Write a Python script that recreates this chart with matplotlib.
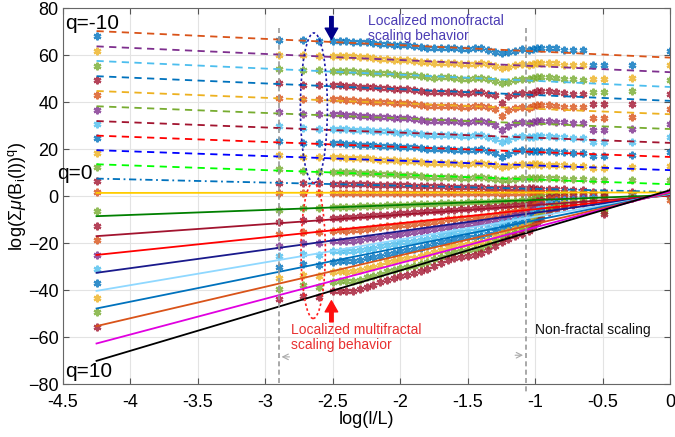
import matplotlib.pyplot as plt
from matplotlib.patches import Ellipse

plt.rcParams['font.family'] = ['Liberation Sans', 'DejaVu Sans']
plt.rcParams['mathtext.fontset'] = 'custom'
plt.rcParams['mathtext.rm'] = 'Liberation Sans'
plt.rcParams['mathtext.it'] = 'Liberation Sans:italic'

# sample positions log(l/L)
x_pos = [-4.25, -2.90, -2.72, -2.60, -2.50,
         -2.45, -2.40, -2.35, -2.30, -2.25, -2.20, -2.15, -2.10, -2.05, -2.00,
         -1.95, -1.90, -1.85, -1.80, -1.75, -1.70, -1.65, -1.60, -1.55, -1.50,
         -1.45, -1.40, -1.35, -1.30, -1.25, -1.20, -1.15, -1.10,
         -1.05, -1.02, -0.99, -0.96, -0.90, -0.85, -0.79, -0.72, -0.65,
         -0.57, -0.49, -0.28, 0.00]

# measured log(sum mu^q) for q = -10 ... 10
pts_qm10 = [68.1, 66.7, 66.4, 66.2, 66.1,
            66.1, 65.9, 65.8, 65.5, 65.5, 65.1, 64.9, 64.9, 64.5, 64.3,
            64.4, 64.0, 63.6, 63.3, 63.0, 63.1, 63.2, 62.9, 62.6, 62.7,
            62.9, 62.9, 62.4, 61.6, 60.8, 61.3, 62.0, 62.5,
            62.2, 62.7, 63.1, 63.2, 63.2, 62.9, 62.3, 62.2, 62.1,
            55.7, 55.7, 55.9, 61.8]
pts_qm9 = [61.8, 60.3, 60.0, 59.8, 59.8,
           59.7, 59.5, 59.5, 59.1, 59.1, 58.8, 58.6, 58.5, 58.2, 58.0,
           58.0, 57.7, 57.3, 57.0, 56.7, 56.8, 56.9, 56.6, 56.3, 56.4,
           56.5, 56.6, 56.1, 55.4, 54.5, 55.0, 55.8, 56.2,
           55.9, 56.4, 56.9, 56.9, 56.9, 56.6, 56.0, 56.0, 55.9,
           50.1, 50.1, 50.3, 55.7]
pts_qm8 = [55.6, 54.3, 53.8, 53.6, 53.5,
           53.5, 53.3, 53.2, 52.9, 52.9, 52.6, 52.3, 52.3, 52.0, 51.7,
           51.8, 51.5, 51.0, 50.7, 50.5, 50.6, 50.6, 50.4, 50.1, 50.1,
           50.3, 50.4, 49.8, 49.1, 48.3, 48.8, 49.5, 50.0,
           49.7, 50.2, 50.6, 50.6, 50.7, 50.3, 49.8, 49.7, 49.6,
           44.4, 44.4, 44.6, 49.6]
pts_qm7 = [49.4, 48.4, 47.5, 47.3, 47.3,
           47.3, 47.0, 47.0, 46.7, 46.7, 46.3, 46.1, 46.1, 45.8, 45.5,
           45.6, 45.3, 44.9, 44.5, 44.3, 44.4, 44.5, 44.3, 43.9, 44.0,
           44.2, 44.3, 43.7, 43.0, 39.7, 42.7, 43.4, 43.9,
           43.6, 44.1, 44.6, 44.6, 44.6, 44.3, 43.8, 43.7, 43.6,
           39.1, 39.1, 39.3, 43.4]
pts_qm6 = [43.1, 42.0, 41.4, 41.3, 41.2,
           41.2, 41.0, 41.0, 40.7, 40.6, 40.3, 40.1, 40.1, 39.8, 39.6,
           39.6, 39.3, 38.9, 38.6, 38.4, 38.5, 38.6, 38.3, 38.0, 38.1,
           38.3, 38.4, 37.9, 37.1, 34.0, 36.8, 37.6, 38.1,
           37.7, 38.3, 38.7, 38.7, 38.8, 38.5, 37.9, 37.9, 37.8,
           33.5, 33.5, 33.7, 37.2]
pts_qm5 = [36.9, 35.9, 35.0, 34.8, 34.8,
           34.8, 34.6, 34.6, 34.3, 34.2, 33.9, 33.7, 33.7, 33.4, 33.2,
           33.3, 33.0, 32.5, 32.2, 32.0, 32.1, 32.2, 32.0, 31.7, 31.7,
           31.9, 32.0, 31.5, 30.4, 28.3, 29.9, 31.2, 31.6,
           31.3, 31.7, 32.1, 32.1, 32.1, 31.8, 31.4, 31.3, 31.2,
           28.4, 28.4, 28.6, 30.9]
pts_qm4 = [30.9, 29.8, 28.9, 28.7, 28.7,
           28.7, 28.5, 28.4, 28.1, 28.1, 27.8, 27.6, 27.6, 27.3, 27.1,
           27.2, 26.9, 26.4, 26.1, 25.9, 26.0, 26.1, 25.9, 25.6, 25.7,
           25.9, 26.0, 25.4, 24.3, 22.9, 23.8, 25.2, 25.7,
           25.2, 25.4, 25.6, 25.6, 25.6, 25.4, 25.0, 24.9, 24.8,
           22.9, 22.9, 23.1, 25.0]
pts_qm3 = [24.7, 23.5, 22.7, 22.6, 22.6,
           22.6, 22.3, 22.3, 22.0, 22.0, 21.7, 21.5, 21.5, 21.2, 21.0,
           21.1, 20.8, 20.4, 20.1, 19.9, 20.0, 20.0, 19.8, 19.5, 19.6,
           19.8, 19.9, 19.4, 18.3, 16.9, 17.8, 19.2, 19.6,
           19.1, 19.2, 19.3, 19.2, 19.2, 19.0, 18.8, 18.6, 18.5,
           17.3, 17.3, 17.5, 18.7]
pts_qm2 = [18.4, 17.4, 16.8, 16.6, 16.6,
           16.6, 16.4, 16.4, 16.1, 16.1, 15.8, 15.6, 15.6, 15.3, 15.1,
           15.2, 14.9, 14.5, 14.2, 14.0, 14.1, 14.2, 14.0, 13.7, 13.8,
           14.0, 14.1, 13.6, 13.1, 12.4, 12.8, 13.4, 13.8,
           13.5, 13.6, 13.6, 13.5, 13.4, 13.3, 13.1, 13.0, 12.9,
           12.2, 12.2, 12.4, 12.8]
pts_qm1 = [12.5, 11.4, 10.7, 10.5, 10.5,
           10.4, 10.3, 10.2, 10.0, 9.9, 9.7, 9.5, 9.5, 9.3, 9.1,
           9.1, 8.9, 8.6, 8.3, 8.2, 8.2, 8.3, 8.1, 7.9, 7.9,
           8.0, 8.0, 7.6, 7.2, 6.8, 6.9, 7.4, 7.6,
           7.6, 7.8, 7.9, 7.9, 7.8, 7.6, 7.5, 7.3, 7.2,
           6.8, 6.8, 6.9, 7.1]
pts_q0 = [6.3, 5.7, 5.6, 5.5, 5.4,
          5.3, 5.2, 5.2, 5.1, 5.0, 4.9, 4.9, 4.8, 4.7, 4.6,
          4.6, 4.5, 4.4, 4.3, 4.2, 4.2, 4.1, 4.0, 3.9, 3.9,
          3.8, 3.8, 3.7, 3.5, 3.3, 3.4, 3.4, 3.4,
          3.3, 3.3, 3.2, 3.2, 3.1, 3.0, 2.9, 2.8, 2.7,
          2.0, 1.9, 1.8, 1.8]
pts_q1 = [1.7, 1.4, 1.4, 1.4, 1.4,
          1.5, 1.4, 1.5, 1.4, 1.4, 1.5, 1.4, 1.4, 1.4, 1.5,
          1.4, 1.4, 1.3, 1.4, 1.4, 1.3, 1.4, 1.4, 1.3, 1.4,
          1.4, 1.3, 1.3, 1.2, 1.1, 1.2, 1.3, 1.4,
          1.4, 1.5, 1.5, 1.5, 1.4, 1.4, 1.3, 1.3, 1.2,
          0.9, 0.6, 0.8, -1.7]
pts_q2 = [-6.3, -5.7, -5.2, -4.9, -4.7,
          -4.6, -4.5, -4.4, -4.3, -4.2, -4.1, -4.0, -3.9, -3.8, -3.7,
          -3.6, -3.5, -3.4, -3.3, -3.2, -3.1, -3.0, -2.8, -2.7, -2.6,
          -2.5, -2.4, -2.3, -2.2, -2.1, -2.0, -1.9, -1.8,
          -1.7, -1.0, -0.6, -0.3, 0.5, 0.8, 1.0, 1.0, 1.1,
          1.1, 1.0, 1.0, 0.2]
pts_q3 = [-12.5, -11.1, -10.3, -9.8, -9.4,
          -9.2, -9.0, -8.8, -8.6, -8.4, -8.2, -8.0, -7.8, -7.5, -7.3,
          -7.1, -6.9, -6.7, -6.5, -6.3, -6.1, -5.9, -5.7, -5.5, -5.3,
          -5.1, -4.9, -4.7, -4.5, -4.3, -4.1, -3.9, -3.7,
          -3.5, -2.5, -1.9, -1.5, -0.4, 0.0, 0.3, 0.4, 0.6,
          0.7, -0.1, 0.8, 0.4]
pts_q4 = [-18.7, -15.9, -15.3, -15.4, -14.6,
          -14.5, -14.6, -14.5, -14.2, -13.9, -13.7, -13.2, -12.8, -12.6, -12.2,
          -12.1, -11.9, -11.6, -11.2, -10.8, -10.4, -9.9, -9.6, -9.4, -9.2,
          -9.1, -8.9, -8.4, -7.8, -7.3, -6.8, -6.4, -6.0,
          -5.6, -4.0, -3.2, -2.7, -1.3, -0.7, -0.4, -0.2, 0.0,
          0.2, -1.2, 0.5, 0.6]
pts_q5 = [-25.0, -21.1, -19.9, -20.0, -18.9,
          -18.9, -19.0, -18.9, -18.5, -18.0, -17.8, -17.2, -16.7, -16.4, -15.9,
          -15.6, -15.4, -15.0, -14.5, -14.1, -13.5, -12.9, -12.5, -12.2, -12.0,
          -11.8, -11.5, -10.9, -10.1, -9.4, -8.7, -8.2, -7.7,
          -7.3, -5.4, -4.5, -3.9, -2.2, -1.5, -1.1, -0.8, -0.5,
          -0.2, -2.3, 0.3, 0.8]
pts_q6 = [-30.9, -25.5, -24.5, -24.9, -23.5,
          -23.4, -23.4, -23.3, -22.9, -22.4, -22.0, -21.3, -20.6, -20.2, -19.6,
          -19.4, -19.1, -18.7, -18.1, -17.3, -16.6, -15.9, -15.3, -15.1, -14.8,
          -14.6, -14.2, -13.5, -12.5, -11.5, -10.8, -10.2, -9.5,
          -8.9, -6.9, -5.8, -5.1, -3.1, -2.2, -1.8, -1.4, -1.0,
          -0.7, -3.4, 0.1, 1.0]
pts_q7 = [-37.1, -30.3, -29.0, -29.4, -27.8,
          -27.7, -27.7, -27.7, -27.2, -26.4, -26.0, -25.3, -24.5, -24.0, -23.3,
          -22.9, -22.6, -22.1, -21.4, -20.5, -19.7, -18.9, -18.2, -17.8, -17.5,
          -17.3, -16.8, -16.0, -14.8, -13.7, -12.7, -12.0, -11.2,
          -10.5, -8.4, -7.2, -6.2, -4.0, -3.0, -2.4, -2.0, -1.5,
          -1.1, -4.4, -0.2, 1.2]
pts_q8 = [-43.4, -34.9, -33.6, -34.0, -32.1,
          -32.0, -32.1, -32.0, -31.4, -30.5, -30.2, -29.2, -28.2, -27.7, -26.9,
          -26.5, -26.1, -25.5, -24.7, -23.7, -22.8, -21.7, -21.0, -20.6, -20.2,
          -19.9, -19.4, -18.5, -17.0, -15.7, -14.7, -13.8, -12.9,
          -12.1, -9.9, -8.5, -7.4, -4.9, -3.8, -3.1, -2.6, -2.1,
          -1.5, -5.5, -0.4, 1.4]
pts_q9 = [-49.4, -39.4, -38.0, -38.5, -36.4,
          -36.2, -36.3, -36.2, -35.5, -34.6, -34.1, -33.0, -32.0, -31.3, -30.5,
          -30.0, -29.5, -28.9, -27.9, -26.8, -25.7, -24.5, -23.7, -23.2, -22.9,
          -22.5, -21.9, -20.8, -19.2, -17.7, -16.5, -15.5, -14.5,
          -13.6, -11.3, -9.8, -8.6, -5.8, -4.5, -3.8, -3.2, -2.6,
          -2.0, -6.6, -0.7, 1.6]
pts_q10 = [-55.6, -43.8, -42.3, -42.9, -40.5,
           -40.3, -40.5, -40.3, -39.5, -38.5, -37.9, -36.7, -35.5, -34.9, -33.8,
           -33.4, -32.8, -32.0, -31.0, -29.7, -28.5, -27.2, -26.3, -25.7, -25.3,
           -24.9, -24.2, -23.0, -21.2, -19.6, -18.1, -17.1, -15.9,
           -14.9, -12.8, -11.1, -9.8, -6.7, -5.3, -4.5, -3.8, -3.1,
           -2.4, -7.7, -0.9, 1.8]

series_pts = [pts_qm10, pts_qm9, pts_qm8, pts_qm7, pts_qm6, pts_qm5, pts_qm4,
              pts_qm3, pts_qm2, pts_qm1, pts_q0, pts_q1, pts_q2, pts_q3, pts_q4,
              pts_q5, pts_q6, pts_q7, pts_q8, pts_q9, pts_q10]

# linear fits: value at log(l/L) = -4.25 and at 0
fit_x = [-4.25, 0.0]
fit_left = [70.3, 63.8, 57.6, 51.1, 44.8, 38.3, 32.0, 25.8, 19.6, 13.6, 7.5,
            1.4, -8.5, -17.0, -25.0, -32.6, -40.3, -47.8, -55.3, -62.7, -70.1]
fit_right = [59.0, 52.8, 46.5, 40.6, 34.9, 28.6, 22.7, 16.7, 11.1, 5.1, 1.8,
             1.6, 0.5, 0.3, 0.5, 0.8, 1.0, 1.3, 1.6, 2.0, 2.6]

B, O, Y, P, G, LB, DR = '#0072BD', '#D95319', '#EDB120', '#7E2F8E', '#77AC30', '#4DBEEE', '#A2142F'
pt_colors = [B, Y, G, DR, O, P, LB, B, Y, G, DR, O, G, DR, O, P, LB, B, Y, G, DR]
line_colors = [O, P, LB, B, Y, G, DR, '#FF0000', '#0000FF', '#00FF00', B,
               '#FFCC00', '#008000', DR, '#FF0000', '#1A1A8C', '#8FD8FF', B, O, '#E000E0', '#000000']
line_styles = ['dash'] * 10 + ['dashdot'] + ['solid'] * 10

fig = plt.figure(figsize=(6.75, 4.37), dpi=100)
ax = fig.add_axes([0.093, 0.121, 0.9, 0.86])

for pts, c in zip(series_pts, pt_colors):
    assert len(pts) == len(x_pos)
    ax.plot(x_pos, pts, ls='none', marker=(6, 2, 0), ms=5.5, mew=1.6, color=c, alpha=0.8, zorder=2)

for yl, yr, c, st in zip(fit_left, fit_right, line_colors, line_styles):
    if st == 'dash':
        ax.plot(fit_x, [yl, yr], color=c, lw=1.3, dashes=(4, 3), zorder=3)
    elif st == 'dashdot':
        ax.plot(fit_x, [yl, yr], color=c, lw=1.3, dashes=(4, 2, 1, 2), zorder=3)
    else:
        ax.plot(fit_x, [yl, yr], color=c, lw=1.3, zorder=3)

# scaling range limits
ax.plot([-2.9, -2.9], [71.5, -80], color='#999999', lw=1.2, dashes=(3, 2), clip_on=False, zorder=4)
ax.plot([-1.07, -1.07], [71.5, -83.5], color='#999999', lw=1.2, dashes=(3, 2), clip_on=False, zorder=4)
ax.annotate('', xy=(-2.9, -68.4), xytext=(-2.8, -68.4),
            arrowprops=dict(arrowstyle='->', color='#aaaaaa', lw=0.8))
ax.annotate('', xy=(-1.07, -67.7), xytext=(-1.17, -67.7),
            arrowprops=dict(arrowstyle='->', color='#aaaaaa', lw=0.8))

ax.add_patch(Ellipse((-2.64, 37.6), 0.2, 63.8, fill=False, ec='#1A1AAA', lw=1.2, ls=(0, (1.5, 1.5)), zorder=5))
ax.add_patch(Ellipse((-2.645, -23.2), 0.18, 57.7, fill=False, ec='#FF2020', lw=1.2, ls=(0, (1.5, 1.5)), zorder=5))

ax.annotate('', xy=(-2.51, 66.8), xytext=(-2.51, 76.5),
            arrowprops=dict(width=2.5, headwidth=9, headlength=8, color='#00008B', shrink=0))
ax.annotate('', xy=(-2.51, -44.5), xytext=(-2.51, -53.5),
            arrowprops=dict(width=2.5, headwidth=9, headlength=8, color='#FF1010', shrink=0))

ax.text(-2.24, 77.5, 'Localized monofractal\nscaling behavior', color='#4B3CB4',
        fontsize=10, va='top', ha='left', linespacing=1.05)
ax.text(-2.81, -54.0, 'Localized multifractal\nscaling behavior', color='#E83030',
        fontsize=10, va='top', ha='left', linespacing=1.05)
ax.text(-1.0, -57, 'Non-fractal scaling', color='#111111', fontsize=10, va='center', ha='left')

ax.text(-4.48, 73.5, 'q=-10', fontsize=15, va='center', ha='left')
ax.text(-4.54, 9.8, 'q=0', fontsize=15, va='center', ha='left', clip_on=False)
ax.text(-4.48, -74.5, 'q=10', fontsize=15, va='center', ha='left')

ax.set_xlim(-4.5, 0)
ax.set_ylim(-80, 80)
ax.set_xticks([-4.5, -4, -3.5, -3, -2.5, -2, -1.5, -1, -0.5, 0])
ax.set_xticklabels(['-4.5', '-4', '-3.5', '-3', '-2.5', '-2', '-1.5', '-1', '-0.5', '0'])
ax.set_yticks(range(-80, 81, 20))
ax.grid(True, color='#E3E3E3', lw=0.8)
ax.set_axisbelow(True)
ax.tick_params(direction='in', top=True, right=True, labelsize=13, length=4, color='#555555')
ax.tick_params(axis='x', pad=7)
ax.tick_params(axis='y', pad=3)
for sp in ax.spines.values():
    sp.set_color('#666666')
    sp.set_linewidth(0.8)

ax.set_xlabel('log(l/L)', fontsize=13, labelpad=0)
ax.set_ylabel(r'log($\Sigma\mu$(B$_{\rm i}$(l))$^{\rm q}$)', fontsize=13, labelpad=0)

fig.savefig('out.png', dpi=100)
